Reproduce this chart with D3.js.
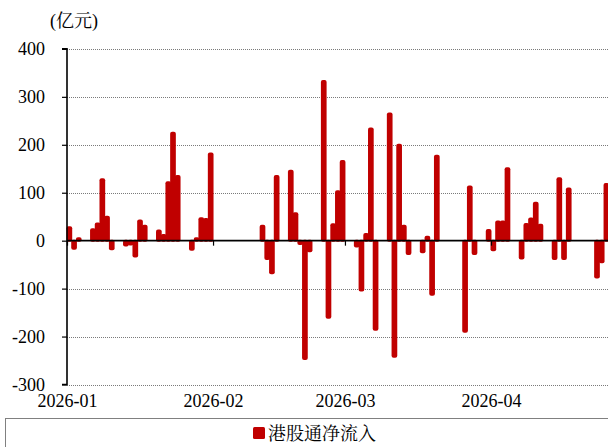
<!DOCTYPE html>
<html>
<head>
<meta charset="utf-8">
<script src="https://cdn.jsdelivr.net/npm/d3@7"></script>
<style>
  html, body { margin: 0; padding: 0; background: #fff; }
  svg { display: block; }
  .lat { font-family: "Liberation Serif", "Times New Roman", serif; }
  .cjk { font-family: "Liberation Serif", "Noto Serif CJK SC", "Noto Sans CJK SC", serif; }
</style>
</head>
<body>
<svg id="chart" width="608" height="447"></svg>
<script>
// ---- data ----
const dates = [
  "2026-01-01","2026-01-02","2026-01-03",
  "2026-01-06","2026-01-07","2026-01-08","2026-01-09","2026-01-10",
  "2026-01-13","2026-01-14","2026-01-15","2026-01-16","2026-01-17",
  "2026-01-20","2026-01-21","2026-01-22","2026-01-23","2026-01-24",
  "2026-01-27","2026-01-28","2026-01-29","2026-01-30","2026-01-31",
  "2026-02-11","2026-02-12","2026-02-13","2026-02-14",
  "2026-02-17","2026-02-18","2026-02-19","2026-02-20","2026-02-21",
  "2026-02-24","2026-02-25","2026-02-26","2026-02-27","2026-02-28",
  "2026-03-03","2026-03-04","2026-03-05","2026-03-06","2026-03-07",
  "2026-03-10","2026-03-11","2026-03-12","2026-03-13","2026-03-14",
  "2026-03-17","2026-03-18","2026-03-19","2026-03-20",
  "2026-03-26","2026-03-27","2026-03-28",
  "2026-03-31","2026-04-01","2026-04-02","2026-04-03","2026-04-04",
  "2026-04-07","2026-04-08","2026-04-09","2026-04-10","2026-04-11",
  "2026-04-14","2026-04-15","2026-04-16","2026-04-17",
  "2026-04-23","2026-04-24","2026-04-25"
];
const netInflow = [
  28, -17, 5,
  24, 36, 128, 50, -18,
  -10, -8, -33, 42, 31,
  21, 12, 122, 225, 135,
  -19, 5, 47, 45, 182,
  31, -38, -68, 135,
  146, 57, -7, -247, -22,
  333, -161, 34, 103, 166,
  -12, -104, 14, 234, -186,
  265, -242, 200, 31, -28,
  -24, 8, -113, 177,
  -190, 113, -28,
  22, -20, 40, 40, 151,
  -37, 35, 46, 79, 33,
  -38, 130, -38, 109,
  -77, -45, 118
];
const yTicks = [400, 300, 200, 100, 0, -100, -200, -300];
const monthTicks = ["2026-01-01", "2026-02-01", "2026-03-01", "2026-04-01"];
const seriesName = "港股通净流入";
const unitLabel = "(亿元)";

// ---- layout ----
const svg = d3.select("#chart");
const W = 608, H = 447;
const plotLeft = 67, plotTop = 48.9, plotBottom = 384.5;
const pxPerDay = 4.711;
const parse = d3.utcParse("%Y-%m-%d");
const fmt = d3.utcFormat("%Y-%m");
const day0 = parse("2026-01-01"), dayEnd = parse("2026-05-01");

const x = d3.scaleUtc().domain([day0, dayEnd])
  .range([plotLeft, plotLeft + pxPerDay * d3.utcDay.count(day0, dayEnd)]);
const y = d3.scaleLinear().domain([-300, 400]).range([plotBottom, plotTop]);
const red = "#C00000";

// gridlines
svg.append("g").selectAll("line")
  .data(yTicks.filter(v => v !== 0))
  .join("line")
  .attr("x1", plotLeft).attr("x2", W)
  .attr("y1", d => Math.round(y(d)) + 0.5).attr("y2", d => Math.round(y(d)) + 0.5)
  .attr("stroke", "#7a7a7a").attr("stroke-width", 1)
  .attr("stroke-dasharray", "1,1");

// bars
const barW = 5.7;
const data = dates.map((d, i) => ({ date: d3.utcHour.offset(parse(d), 12), v: netInflow[i] }));
svg.append("g").selectAll("rect")
  .data(data)
  .join("rect")
  .attr("x", d => x(d.date) - barW / 2)
  .attr("width", barW)
  .attr("y", d => Math.min(y(d.v), y(0)) - 1)
  .attr("height", d => Math.abs(y(d.v) - y(0)) + 2)
  .attr("rx", 2)
  .attr("fill", red);

// y axis
const yAxis = d3.axisLeft(y).tickValues(yTicks).tickSize(5).tickPadding(17).tickFormat(d => String(d));
const gy = svg.append("g").attr("transform", `translate(${plotLeft},0)`).call(yAxis);
gy.select(".domain").attr("stroke", "#000").attr("stroke-width", 1.6)
  .attr("d", `M-5,${y(400)}H0V${y(-300)}H-5`);
gy.selectAll(".tick line").attr("stroke", "#000").attr("stroke-width", 1.2);
gy.selectAll(".tick text").attr("class", "lat").attr("font-size", 18).attr("fill", "#000");

// zero line with month ticks
const monthDates = monthTicks.map(parse);
const gx0 = svg.append("g").attr("transform", `translate(0,${y(0)})`)
  .call(d3.axisBottom(x).tickValues(monthDates).tickSize(5).tickFormat(""));
gx0.select(".domain").attr("stroke", "#000").attr("stroke-width", 1.6)
  .attr("d", `M${plotLeft},0H${W + 40}`);
gx0.selectAll(".tick line").attr("stroke", "#000").attr("stroke-width", 1.2);

// month labels at bottom
const gxl = svg.append("g").attr("transform", `translate(0,${plotBottom})`)
  .call(d3.axisBottom(x).tickValues(monthDates).tickSize(0).tickPadding(10).tickFormat(fmt));
gxl.select(".domain").remove();
gxl.selectAll(".tick text").attr("class", "lat").attr("font-size", 18).attr("fill", "#000");

// unit label
svg.append("text").attr("class", "cjk")
  .attr("x", 50).attr("y", 27).attr("font-size", 18).attr("fill", "#000")
  .text(unitLabel);

// legend
svg.append("rect").attr("x", 5.5).attr("y", 418.5).attr("width", 700).attr("height", 60)
  .attr("fill", "none").attr("stroke", "#808080").attr("stroke-width", 1);
svg.append("rect").attr("x", 253).attr("y", 427).attr("width", 12).attr("height", 12)
  .attr("rx", 1.5).attr("fill", red);
svg.append("text").attr("class", "cjk")
  .attr("x", 268).attr("y", 440).attr("font-size", 18).attr("fill", "#000")
  .text(seriesName);
</script>
</body>
</html>
